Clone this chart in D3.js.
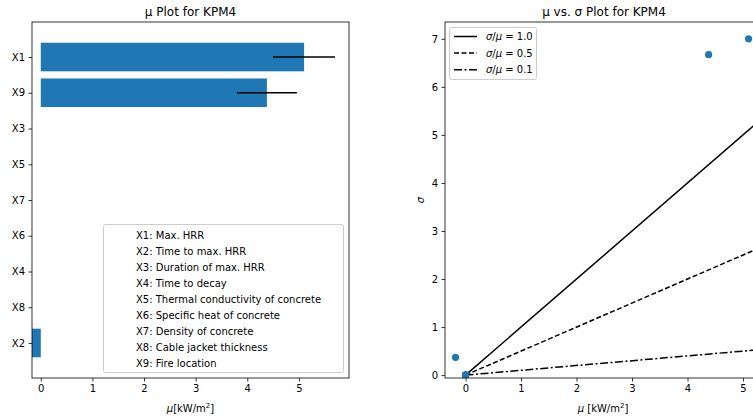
<!DOCTYPE html>
<html><head><meta charset="utf-8">
<script src="https://cdn.jsdelivr.net/npm/d3@7"></script>
<style>body{margin:0;background:#fff}svg{display:block;font-family:"DejaVu Sans",sans-serif}</style>
</head><body><svg id="c" width="753" height="419"></svg>
<script>
// ---- data ----
const params = ["X1","X9","X3","X5","X7","X6","X4","X8","X2"];
const muValues = [5.10, 4.38, 0, 0, 0, 0, 0, 0, -0.18];
const muErr = [0.60, 0.58, 0, 0, 0, 0, 0, 0, 0];
const sigmaValues = [7.00, 6.67, 0, 0, 0, 0, 0, 0, 0.37];
const descriptions = ["X1: Max. HRR","X2: Time to max. HRR","X3: Duration of max. HRR","X4: Time to decay",
  "X5: Thermal conductivity of concrete","X6: Specific heat of concrete","X7: Density of concrete",
  "X8: Cable jacket thickness","X9: Fire location"];
const ratios = [1.0, 0.5, 0.1];
const ratioLabels = ["1.0","0.5","0.1"];
const xTicks = [0,1,2,3,4,5];
const yTicksR = [0,1,2,3,4,5,6,7];

const svg = d3.select("#c");
const blue = "#1f77b4";

function styleAxis(g){
  g.selectAll(".domain").remove();
  g.selectAll(".tick line").attr("stroke","#000").attr("stroke-width",0.8);
  g.selectAll(".tick text").attr("font-size",10).attr("fill","#000").attr("font-family","DejaVu Sans");
}

// ---- left: mu bar plot ----
const L = {l:32, r:349, t:22, b:378};
const xL = d3.scaleLinear().domain([-0.17,5.97]).range([L.l,L.r]);
const yL = d3.scaleLinear().domain([-0.98,8.98]).range([L.t,L.b]);
const gL = svg.append("g");
gL.append("defs").append("clipPath").attr("id","clipL").append("rect")
  .attr("x",L.l).attr("y",L.t).attr("width",L.r-L.l).attr("height",L.b-L.t);
const plotL = gL.append("g").attr("clip-path","url(#clipL)");
const bh = (yL(0.4)-yL(-0.4));
plotL.selectAll("rect.bar").data(params).join("rect").attr("class","bar")
  .attr("x",(d,i)=>Math.min(xL(0),xL(muValues[i])))
  .attr("width",(d,i)=>Math.abs(xL(muValues[i])-xL(0)))
  .attr("y",(d,i)=>yL(i)-bh/2).attr("height",bh).attr("fill",blue);
plotL.selectAll("line.err").data(params.filter((d,i)=>muErr[i]>0)).join("line").attr("class","err")
  .attr("x1",d=>{const i=params.indexOf(d);return xL(muValues[i]-muErr[i]);})
  .attr("x2",d=>{const i=params.indexOf(d);return xL(muValues[i]+muErr[i]);})
  .attr("y1",d=>yL(params.indexOf(d))).attr("y2",d=>yL(params.indexOf(d)))
  .attr("stroke","#000").attr("stroke-width",1.5);
gL.append("g").attr("transform",`translate(0,${L.b})`)
  .call(d3.axisBottom(xL).tickValues(xTicks).tickSize(3.5).tickPadding(3.5).tickFormat(d3.format("d"))).call(styleAxis);
gL.append("g").attr("transform",`translate(${L.l},0)`)
  .call(d3.axisLeft(yL).tickValues(d3.range(params.length)).tickSize(3.5).tickPadding(3.5).tickFormat(i=>params[i])).call(styleAxis);
gL.append("rect").attr("x",L.l).attr("y",L.t).attr("width",L.r-L.l).attr("height",L.b-L.t)
  .attr("fill","none").attr("stroke","#000").attr("stroke-width",0.8);
// legend (text only)
const legL = gL.append("g");
legL.append("rect").attr("x",103.5).attr("y",224.5).attr("width",240).attr("height",148).attr("rx",2)
  .attr("fill","#fff").attr("fill-opacity",0.8).attr("stroke","#ccc").attr("stroke-width",1);
legL.selectAll("text").data(descriptions).join("text")
  .attr("x",136).attr("y",(d,i)=>235+i*16).attr("dy","0.35em")
  .attr("font-size",10).attr("fill","#000").text(d=>d);
gL.append("text").attr("x",(L.l+L.r)/2).attr("y",16).attr("text-anchor","middle").attr("font-size",12)
  .text("μ Plot for KPM4");
const xlabL = gL.append("text").attr("x",(L.l+L.r)/2).attr("y",412).attr("text-anchor","middle").attr("font-size",10);
xlabL.append("tspan").attr("font-style","italic").text("μ");
xlabL.append("tspan").text("[kW/m");
xlabL.append("tspan").attr("font-size",7).attr("dy",-4).text("2");
xlabL.append("tspan").attr("dy",4).text("]");

// ---- right: mu vs sigma ----
const R = {l:445, r:763, t:22, b:378};
const xR = d3.scaleLinear().domain([-0.37,5.36]).range([R.l,R.r]);
const yR = d3.scaleLinear().domain([-0.06,7.35]).range([R.b,R.t]);
const gR = svg.append("g");
gR.append("defs").append("clipPath").attr("id","clipR").append("rect")
  .attr("x",R.l).attr("y",R.t).attr("width",R.r-R.l).attr("height",R.b-R.t);
const plotR = gR.append("g").attr("clip-path","url(#clipR)");
const dashes = [null,"5,2.5","8,2.5,2,2.5"];
ratios.forEach((r,k)=>{
  plotR.append("line").attr("x1",xR(0)).attr("y1",yR(0)).attr("x2",xR(5.36)).attr("y2",yR(5.36*r))
    .attr("stroke","#000").attr("stroke-width",1.5).attr("stroke-dasharray",dashes[k]);
});
plotR.selectAll("circle").data(params).join("circle")
  .attr("cx",(d,i)=>xR(muValues[i])).attr("cy",(d,i)=>yR(sigmaValues[i])).attr("r",3.6).attr("fill",blue);
gR.append("g").attr("transform",`translate(0,${R.b})`)
  .call(d3.axisBottom(xR).tickValues(xTicks).tickSize(3.5).tickPadding(3.5).tickFormat(d3.format("d"))).call(styleAxis);
gR.append("g").attr("transform",`translate(${R.l},0)`)
  .call(d3.axisLeft(yR).tickValues(yTicksR).tickSize(3.5).tickPadding(3.5).tickFormat(d3.format("d"))).call(styleAxis);
gR.append("rect").attr("x",R.l).attr("y",R.t).attr("width",R.r-R.l).attr("height",R.b-R.t)
  .attr("fill","none").attr("stroke","#000").attr("stroke-width",0.8);
const legR = gR.append("g");
legR.append("rect").attr("x",449.5).attr("y",27.5).attr("width",87).attr("height",52).attr("rx",2)
  .attr("fill","#fff").attr("fill-opacity",0.8).attr("stroke","#ccc").attr("stroke-width",1);
ratios.forEach((r,k)=>{
  const y = 36.5+k*16.6;
  legR.append("line").attr("x1",454).attr("x2",477).attr("y1",y).attr("y2",y)
    .attr("stroke","#000").attr("stroke-width",1.5).attr("stroke-dasharray",dashes[k]);
  const t = legR.append("text").attr("x",486).attr("y",y).attr("dy","0.35em").attr("font-size",10);
  t.append("tspan").attr("font-style","italic").text("σ");
  t.append("tspan").text("/");
  t.append("tspan").attr("font-style","italic").text("μ");
  t.append("tspan").text(" = "+ratioLabels[k]);
});
gR.append("text").attr("x",(R.l+R.r)/2).attr("y",16).attr("text-anchor","middle").attr("font-size",12)
  .text("μ vs. σ Plot for KPM4");
const xlabR = gR.append("text").attr("x",(R.l+R.r)/2 - 1).attr("y",412).attr("text-anchor","middle").attr("font-size",10);
xlabR.append("tspan").attr("font-style","italic").text("μ");
xlabR.append("tspan").text(" [kW/m");
xlabR.append("tspan").attr("font-size",7).attr("dy",-4).text("2");
xlabR.append("tspan").attr("dy",4).text("]");
gR.append("text").attr("transform",`translate(424,${(R.t+R.b)/2}) rotate(-90)`).attr("text-anchor","middle")
  .attr("font-size",10).attr("font-style","italic").text("σ");
</script></body></html>
